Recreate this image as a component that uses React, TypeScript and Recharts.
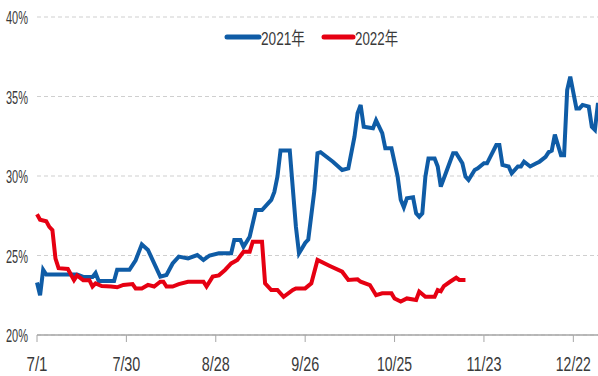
import React from 'react';
import { LineChart, Line, XAxis, YAxis, CartesianGrid } from 'recharts';

// day index counted from 7/1, value in %
const days2021 = [0, 1, 2, 3, 13, 15, 18, 19, 20, 25, 26, 30, 32, 34, 36, 40, 42, 44, 46, 49, 52, 54, 56, 59, 63, 64, 66, 67, 69, 71, 73, 76, 77, 78, 79, 82, 84, 85, 86, 87, 88, 90, 91, 92, 96, 99, 101, 103, 104, 105, 106, 109, 110, 112, 113, 115, 117, 118, 119, 120, 122, 123, 124, 125, 126, 127, 129, 130, 131, 133, 135, 136, 138, 139, 140, 142, 143, 145, 146, 149, 150, 151, 153, 154, 156, 157, 158, 160, 162, 163, 165, 166, 167, 168, 170, 171, 172, 173, 175, 176, 177, 179, 180, 181, 182];
const rate2021 = [23.3, 22.5, 24.1, 23.8, 23.8, 23.65, 23.65, 23.9, 23.4, 23.4, 24.1, 24.1, 24.7, 25.7, 25.35, 23.67, 23.77, 24.5, 24.93, 24.82, 25.03, 24.72, 25.0, 25.14, 25.14, 25.97, 25.97, 25.55, 26.18, 27.86, 27.86, 28.5, 29.0, 29.96, 31.6, 31.6, 26.8, 25.14, 25.45, 25.79, 26.0, 29.1, 31.43, 31.5, 30.9, 30.38, 30.48, 32.47, 33.94, 34.47, 33.1, 33.0, 33.5, 32.7, 31.74, 31.74, 29.96, 28.5, 28.03, 28.6, 28.66, 27.65, 27.44, 27.65, 29.96, 31.1, 31.1, 30.6, 29.33, 30.38, 31.43, 31.43, 30.8, 29.96, 29.75, 30.38, 30.48, 30.8, 30.8, 31.95, 31.95, 30.7, 30.6, 30.17, 30.6, 30.6, 30.9, 30.6, 30.8, 30.9, 31.2, 31.5, 31.6, 32.6, 31.3, 31.3, 35.4, 36.25, 34.25, 34.25, 34.47, 34.36, 33.1, 32.9, 34.6];

const days2022 = [0, 1, 3, 4, 5, 6, 7, 10, 11, 12, 13, 15, 17, 18, 19, 21, 24, 26, 28, 31, 32, 34, 36, 38, 40, 41, 42, 44, 46, 49, 54, 55, 57, 59, 61, 63, 65, 67, 69, 70, 73, 74, 76, 78, 80, 83, 84, 87, 89, 91, 95, 99, 101, 104, 105, 108, 110, 112, 115, 116, 118, 120, 123, 124, 126, 129, 130, 131, 132, 134, 136, 137, 139];
const rate2022 = [27.6, 27.25, 27.15, 26.8, 26.6, 24.8, 24.2, 24.15, 23.8, 23.45, 23.75, 23.45, 23.45, 23.05, 23.25, 23.08, 23.05, 23.0, 23.15, 23.2, 22.93, 22.93, 23.15, 23.05, 23.35, 23.35, 23.05, 23.05, 23.2, 23.35, 23.35, 23.05, 23.67, 23.75, 24.09, 24.5, 24.72, 25.24, 25.24, 25.87, 25.87, 23.25, 22.83, 22.83, 22.4, 22.83, 22.93, 22.93, 23.25, 24.72, 24.34, 23.98, 23.46, 23.5, 23.35, 23.14, 22.5, 22.62, 22.62, 22.3, 22.1, 22.3, 22.2, 22.73, 22.4, 22.4, 22.83, 22.75, 23.08, 23.35, 23.6, 23.46, 23.46];

const tickDays = [0, 29, 58, 87, 116, 145, 174];
const tickLabels = ['7/1', '7/30', '8/28', '9/26', '10/25', '11/23', '12/22'];
const yTicks = [20, 25, 30, 35, 40];
const seriesNames = ['2021年', '2022年'];

const series2021 = days2021.map((d, i) => ({ day: d, value: rate2021[i] }));
const series2022 = days2022.map((d, i) => ({ day: d, value: rate2022[i] }));

const FONT = "'Liberation Sans', Arial, 'Noto Sans CJK SC', sans-serif";
const BLUE = '#0f5ca6';
const RED = '#e60012';
const TEXT = '#3a3a3a';

// the source's lettering is tall and narrow, squeeze it with textLength
const XTick = (props: any) => {
  const { x, y, payload } = props;
  const label = tickLabels[tickDays.indexOf(payload.value)] ?? '';
  return (
    <text
      x={x}
      y={y + 27}
      textAnchor="middle"
      fill={TEXT}
      fontSize={20}
      fontFamily={FONT}
      textLength={label.length * 7}
      lengthAdjust="spacingAndGlyphs"
    >
      {label}
    </text>
  );
};

const YTick = (props: any) => {
  const { y, payload } = props;
  return (
    <text
      x={28}
      y={y + 7}
      textAnchor="end"
      fill={TEXT}
      fontSize={19}
      fontFamily={FONT}
      textLength={22}
      lengthAdjust="spacingAndGlyphs"
    >
      {`${payload.value}%`}
    </text>
  );
};

const LegendOverlay = () => (
  <svg width={598} height={60} style={{ position: 'absolute', left: 0, top: 0, pointerEvents: 'none' }}>
    <line x1={227} x2={259} y1={37} y2={37} stroke={BLUE} strokeWidth={5} strokeLinecap="round" />
    <text x={261} y={45} fill={TEXT} fontSize={18} fontFamily={FONT} textLength={44} lengthAdjust="spacingAndGlyphs">
      {seriesNames[0]}
    </text>
    <line x1={324} x2={353} y1={37} y2={37} stroke={RED} strokeWidth={5} strokeLinecap="round" />
    <text x={355} y={45} fill={TEXT} fontSize={18} fontFamily={FONT} textLength={43} lengthAdjust="spacingAndGlyphs">
      {seriesNames[1]}
    </text>
  </svg>
);

export default function App() {
  return (
    <div style={{ position: 'absolute', left: 0, top: 0, width: 598, height: 376, background: '#fff' }}>
      <LineChart width={598} height={376} margin={{ top: 17, right: 0, left: 0, bottom: 11 }}>
        <CartesianGrid vertical={false} stroke="#cfcfcf" strokeDasharray="4 3" />
        <XAxis
          type="number"
          dataKey="day"
          domain={[0, 182]}
          ticks={tickDays}
          height={30}
          axisLine={{ stroke: '#a6a6a6', strokeWidth: 1.5 }}
          tickLine={{ stroke: '#a6a6a6' }}
          tickSize={7}
          tick={<XTick />}
          interval={0}
        />
        <YAxis
          domain={[20, 40]}
          ticks={yTicks}
          width={37}
          axisLine={false}
          tickLine={false}
          tick={<YTick />}
        />
        <Line
          data={series2021}
          dataKey="value"
          type="linear"
          stroke={BLUE}
          strokeWidth={4}
          dot={false}
          isAnimationActive={false}
        />
        <Line
          data={series2022}
          dataKey="value"
          type="linear"
          stroke={RED}
          strokeWidth={4}
          dot={false}
          isAnimationActive={false}
        />
      </LineChart>
      <LegendOverlay />
    </div>
  );
}
